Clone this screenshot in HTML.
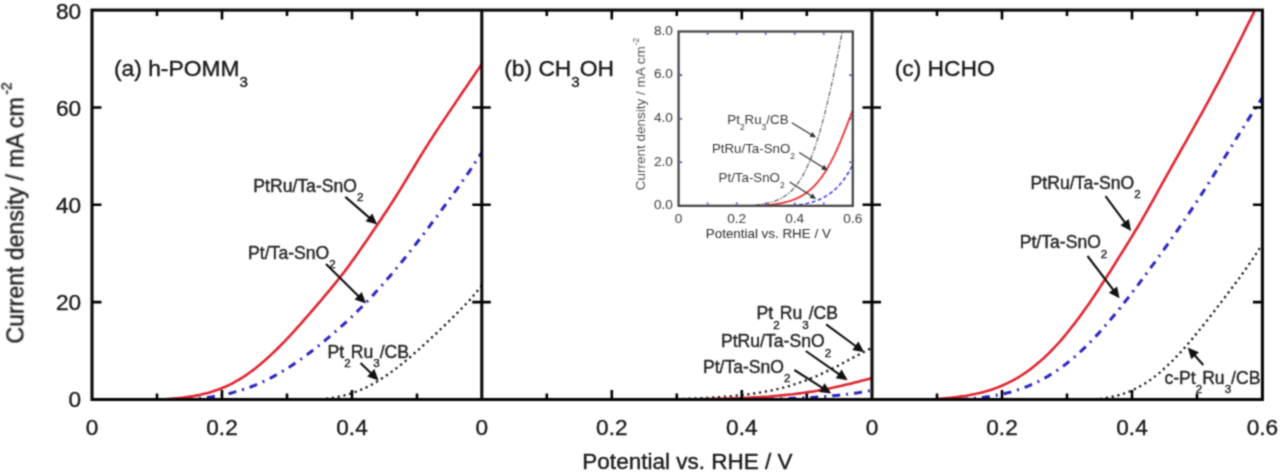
<!DOCTYPE html><html><head><meta charset="utf-8"><style>
html,body{margin:0;padding:0;background:#fff;width:1280px;height:472px;overflow:hidden}
svg{display:block}
#wrap{width:1280px;height:472px;overflow:hidden}
text{font-family:"Liberation Sans", sans-serif}
</style></head><body><div id="wrap">
<svg width="1280" height="472" viewBox="0 0 1280 472">
<defs>
<filter id="bl" x="0" y="0" width="1280" height="472" filterUnits="userSpaceOnUse" color-interpolation-filters="sRGB"><feConvolveMatrix order="3" kernelMatrix="0.04387 0.12171 0.04387 0.12171 0.33767 0.12171 0.04387 0.12171 0.04387" edgeMode="duplicate" preserveAlpha="true"/></filter>
<clipPath id="cp0"><rect x="92.0" y="10.1" width="389.8" height="389.4"/></clipPath>
<clipPath id="cp1"><rect x="481.8" y="10.1" width="390.2" height="389.4"/></clipPath>
<clipPath id="cp2"><rect x="872.0" y="10.1" width="390.4" height="389.4"/></clipPath>
<clipPath id="cpi"><rect x="678.6" y="31.5" width="174.2" height="174.3"/></clipPath>
</defs>
<g filter="url(#bl)">
<rect width="1280" height="472" fill="#fff"/>
<path d="M326.0,398.8 C326.5,398.7 328.0,398.5 329.1,398.4 C330.1,398.2 331.1,398.1 332.1,397.9 C333.1,397.8 334.2,397.6 335.2,397.4 C336.2,397.2 337.2,397.0 338.2,396.8 C339.2,396.6 340.3,396.4 341.3,396.1 C342.3,395.9 343.3,395.6 344.3,395.4 C345.4,395.1 346.4,394.8 347.4,394.5 C348.4,394.2 349.4,393.9 350.5,393.6 C351.5,393.3 352.5,393.0 353.5,392.6 C354.5,392.2 355.5,391.9 356.6,391.5 C357.6,391.1 358.6,390.7 359.6,390.3 C360.6,389.9 361.7,389.4 362.7,389.0 C363.7,388.5 364.7,388.1 365.7,387.6 C366.8,387.1 367.8,386.6 368.8,386.1 C369.8,385.6 370.8,385.0 371.9,384.5 C372.9,383.9 373.9,383.4 374.9,382.8 C375.9,382.2 376.9,381.6 378.0,381.0 C379.0,380.4 380.0,379.7 381.0,379.1 C382.0,378.4 383.1,377.8 384.1,377.1 C385.1,376.4 386.1,375.7 387.1,375.0 C388.2,374.3 389.2,373.6 390.2,372.9 C391.2,372.1 392.2,371.4 393.3,370.6 C394.3,369.9 395.3,369.1 396.3,368.3 C397.3,367.5 398.3,366.7 399.4,365.9 C400.4,365.1 401.4,364.3 402.4,363.5 C403.4,362.6 404.5,361.8 405.5,361.0 C406.5,360.1 407.5,359.3 408.5,358.4 C409.6,357.5 410.6,356.7 411.6,355.8 C412.6,354.9 413.6,354.0 414.6,353.1 C415.7,352.2 416.7,351.3 417.7,350.4 C418.7,349.5 419.7,348.6 420.8,347.7 C421.8,346.8 422.8,345.8 423.8,344.9 C424.8,344.0 425.9,343.1 426.9,342.1 C427.9,341.2 428.9,340.3 429.9,339.3 C431.0,338.4 432.0,337.4 433.0,336.5 C434.0,335.5 435.0,334.6 436.0,333.6 C437.1,332.7 438.1,331.7 439.1,330.7 C440.1,329.8 441.1,328.8 442.2,327.8 C443.2,326.8 444.2,325.9 445.2,324.9 C446.2,323.9 447.3,322.9 448.3,321.9 C449.3,320.9 450.3,319.9 451.3,318.9 C452.4,317.9 453.4,316.9 454.4,315.9 C455.4,314.9 456.4,313.8 457.4,312.8 C458.5,311.8 459.5,310.7 460.5,309.7 C461.5,308.6 462.5,307.6 463.6,306.5 C464.6,305.4 465.6,304.3 466.6,303.2 C467.6,302.1 468.7,301.0 469.7,299.9 C470.7,298.7 471.7,297.6 472.7,296.4 C473.7,295.3 474.8,294.1 475.8,292.9 C476.8,291.7 477.8,290.4 478.8,289.2 C479.9,287.9 481.4,286.0 481.9,285.3" fill="none" stroke="#1a1a1a" stroke-width="2.3" stroke-dasharray="2.2 3.7" clip-path="url(#cp0)"/>
<path d="M185.0,399.5 C185.5,399.5 187.0,399.4 188.0,399.4 C189.0,399.3 190.0,399.2 191.1,399.1 C192.1,399.1 193.1,399.0 194.1,398.9 C195.1,398.8 196.1,398.7 197.1,398.6 C198.1,398.5 199.1,398.4 200.1,398.3 C201.2,398.2 202.2,398.1 203.2,398.0 C204.2,397.9 205.2,397.7 206.2,397.6 C207.2,397.5 208.2,397.3 209.2,397.2 C210.2,397.1 211.2,396.9 212.3,396.8 C213.3,396.6 214.3,396.4 215.3,396.3 C216.3,396.1 217.3,395.9 218.3,395.7 C219.3,395.6 220.3,395.4 221.3,395.2 C222.4,395.0 223.4,394.8 224.4,394.6 C225.4,394.3 226.4,394.1 227.4,393.9 C228.4,393.7 229.4,393.4 230.4,393.2 C231.4,392.9 232.4,392.7 233.5,392.4 C234.5,392.1 235.5,391.8 236.5,391.6 C237.5,391.3 238.5,391.0 239.5,390.7 C240.5,390.4 241.5,390.1 242.5,389.7 C243.6,389.4 244.6,389.1 245.6,388.7 C246.6,388.4 247.6,388.0 248.6,387.7 C249.6,387.3 250.6,386.9 251.6,386.5 C252.6,386.1 253.6,385.7 254.7,385.3 C255.7,384.9 256.7,384.5 257.7,384.1 C258.7,383.6 259.7,383.2 260.7,382.7 C261.7,382.3 262.7,381.8 263.7,381.4 C264.8,380.9 265.8,380.4 266.8,379.9 C267.8,379.4 268.8,378.9 269.8,378.4 C270.8,377.9 271.8,377.3 272.8,376.8 C273.8,376.3 274.8,375.7 275.9,375.1 C276.9,374.6 277.9,374.0 278.9,373.4 C279.9,372.8 280.9,372.3 281.9,371.7 C282.9,371.1 283.9,370.4 284.9,369.8 C286.0,369.2 287.0,368.6 288.0,367.9 C289.0,367.3 290.0,366.6 291.0,366.0 C292.0,365.3 293.0,364.6 294.0,363.9 C295.0,363.3 296.0,362.6 297.1,361.9 C298.1,361.2 299.1,360.5 300.1,359.8 C301.1,359.0 302.1,358.3 303.1,357.6 C304.1,356.8 305.1,356.1 306.1,355.4 C307.2,354.6 308.2,353.8 309.2,353.1 C310.2,352.3 311.2,351.5 312.2,350.8 C313.2,350.0 314.2,349.2 315.2,348.4 C316.2,347.6 317.2,346.8 318.3,346.0 C319.3,345.2 320.3,344.4 321.3,343.5 C322.3,342.7 323.3,341.9 324.3,341.1 C325.3,340.2 326.3,339.4 327.3,338.5 C328.4,337.7 329.4,336.8 330.4,336.0 C331.4,335.1 332.4,334.2 333.4,333.4 C334.4,332.5 335.4,331.6 336.4,330.7 C337.4,329.8 338.4,329.0 339.5,328.1 C340.5,327.2 341.5,326.3 342.5,325.3 C343.5,324.4 344.5,323.5 345.5,322.6 C346.5,321.6 347.5,320.7 348.5,319.8 C349.6,318.8 350.6,317.9 351.6,316.9 C352.6,316.0 353.6,315.0 354.6,314.0 C355.6,313.0 356.6,312.0 357.6,311.0 C358.6,310.1 359.6,309.0 360.7,308.0 C361.7,307.0 362.7,306.0 363.7,305.0 C364.7,303.9 365.7,302.9 366.7,301.8 C367.7,300.8 368.7,299.7 369.7,298.6 C370.8,297.6 371.8,296.5 372.8,295.4 C373.8,294.3 374.8,293.2 375.8,292.1 C376.8,291.0 377.8,289.9 378.8,288.8 C379.8,287.6 380.8,286.5 381.9,285.4 C382.9,284.2 383.9,283.1 384.9,281.9 C385.9,280.7 386.9,279.6 387.9,278.4 C388.9,277.2 389.9,276.0 390.9,274.9 C392.0,273.7 393.0,272.5 394.0,271.3 C395.0,270.1 396.0,268.8 397.0,267.6 C398.0,266.4 399.0,265.2 400.0,263.9 C401.0,262.7 402.0,261.5 403.1,260.2 C404.1,259.0 405.1,257.7 406.1,256.4 C407.1,255.2 408.1,253.9 409.1,252.6 C410.1,251.4 411.1,250.1 412.1,248.8 C413.2,247.5 414.2,246.2 415.2,244.9 C416.2,243.6 417.2,242.3 418.2,241.0 C419.2,239.7 420.2,238.4 421.2,237.1 C422.2,235.8 423.2,234.4 424.3,233.1 C425.3,231.8 426.3,230.5 427.3,229.1 C428.3,227.8 429.3,226.5 430.3,225.1 C431.3,223.8 432.3,222.4 433.3,221.1 C434.4,219.7 435.4,218.4 436.4,217.0 C437.4,215.7 438.4,214.3 439.4,213.0 C440.4,211.6 441.4,210.2 442.4,208.9 C443.4,207.5 444.4,206.1 445.5,204.8 C446.5,203.4 447.5,202.0 448.5,200.6 C449.5,199.3 450.5,197.9 451.5,196.5 C452.5,195.1 453.5,193.7 454.5,192.3 C455.6,190.9 456.6,189.5 457.6,188.1 C458.6,186.7 459.6,185.3 460.6,183.8 C461.6,182.4 462.6,181.0 463.6,179.5 C464.6,178.1 465.6,176.6 466.7,175.2 C467.7,173.7 468.7,172.2 469.7,170.8 C470.7,169.3 471.7,167.8 472.7,166.3 C473.7,164.8 474.7,163.2 475.7,161.7 C476.8,160.2 477.8,158.6 478.8,157.0 C479.8,155.5 481.3,153.1 481.8,152.3" fill="none" stroke="#2a24c0" stroke-width="3" stroke-dasharray="8 6 2 6" clip-path="url(#cp0)"/>
<path d="M158.0,399.5 C158.5,399.5 160.0,399.4 161.0,399.4 C162.0,399.4 163.0,399.3 164.1,399.2 C165.1,399.2 166.1,399.1 167.1,399.0 C168.1,399.0 169.1,398.9 170.1,398.8 C171.1,398.7 172.1,398.7 173.1,398.6 C174.1,398.5 175.2,398.4 176.2,398.3 C177.2,398.2 178.2,398.1 179.2,398.0 C180.2,397.9 181.2,397.8 182.2,397.7 C183.2,397.6 184.2,397.4 185.2,397.3 C186.3,397.2 187.3,397.0 188.3,396.9 C189.3,396.7 190.3,396.6 191.3,396.4 C192.3,396.3 193.3,396.1 194.3,395.9 C195.3,395.7 196.3,395.6 197.4,395.4 C198.4,395.2 199.4,395.0 200.4,394.7 C201.4,394.5 202.4,394.3 203.4,394.0 C204.4,393.8 205.4,393.6 206.4,393.3 C207.4,393.0 208.5,392.8 209.5,392.5 C210.5,392.2 211.5,391.9 212.5,391.6 C213.5,391.2 214.5,390.9 215.5,390.6 C216.5,390.2 217.5,389.9 218.5,389.5 C219.6,389.1 220.6,388.7 221.6,388.3 C222.6,387.9 223.6,387.5 224.6,387.0 C225.6,386.6 226.6,386.1 227.6,385.7 C228.6,385.2 229.6,384.7 230.7,384.2 C231.7,383.7 232.7,383.2 233.7,382.6 C234.7,382.1 235.7,381.5 236.7,380.9 C237.7,380.4 238.7,379.8 239.7,379.1 C240.7,378.5 241.7,377.9 242.8,377.3 C243.8,376.6 244.8,375.9 245.8,375.3 C246.8,374.6 247.8,373.9 248.8,373.2 C249.8,372.4 250.8,371.7 251.8,371.0 C252.8,370.2 253.9,369.5 254.9,368.7 C255.9,367.9 256.9,367.1 257.9,366.3 C258.9,365.5 259.9,364.6 260.9,363.8 C261.9,362.9 262.9,362.1 263.9,361.2 C265.0,360.3 266.0,359.4 267.0,358.5 C268.0,357.6 269.0,356.7 270.0,355.8 C271.0,354.8 272.0,353.9 273.0,352.9 C274.0,352.0 275.0,351.0 276.1,350.0 C277.1,349.0 278.1,348.0 279.1,347.0 C280.1,346.0 281.1,345.0 282.1,343.9 C283.1,342.9 284.1,341.8 285.1,340.8 C286.1,339.7 287.2,338.7 288.2,337.6 C289.2,336.5 290.2,335.4 291.2,334.3 C292.2,333.2 293.2,332.1 294.2,331.0 C295.2,329.9 296.2,328.8 297.2,327.7 C298.3,326.5 299.3,325.4 300.3,324.3 C301.3,323.1 302.3,322.0 303.3,320.8 C304.3,319.7 305.3,318.5 306.3,317.4 C307.3,316.2 308.3,315.1 309.4,313.9 C310.4,312.7 311.4,311.6 312.4,310.4 C313.4,309.2 314.4,308.0 315.4,306.9 C316.4,305.7 317.4,304.5 318.4,303.3 C319.4,302.1 320.5,301.0 321.5,299.8 C322.5,298.6 323.5,297.4 324.5,296.2 C325.5,295.0 326.5,293.8 327.5,292.6 C328.5,291.4 329.5,290.2 330.5,289.0 C331.6,287.8 332.6,286.6 333.6,285.3 C334.6,284.1 335.6,282.9 336.6,281.6 C337.6,280.3 338.6,279.1 339.6,277.8 C340.6,276.5 341.6,275.2 342.7,273.9 C343.7,272.6 344.7,271.3 345.7,269.9 C346.7,268.6 347.7,267.3 348.7,265.9 C349.7,264.5 350.7,263.1 351.7,261.7 C352.7,260.4 353.8,259.0 354.8,257.5 C355.8,256.1 356.8,254.7 357.8,253.3 C358.8,251.8 359.8,250.4 360.8,248.9 C361.8,247.5 362.8,246.0 363.8,244.6 C364.9,243.1 365.9,241.6 366.9,240.2 C367.9,238.7 368.9,237.2 369.9,235.7 C370.9,234.2 371.9,232.8 372.9,231.3 C373.9,229.8 374.9,228.3 376.0,226.8 C377.0,225.3 378.0,223.8 379.0,222.3 C380.0,220.8 381.0,219.3 382.0,217.7 C383.0,216.2 384.0,214.7 385.0,213.2 C386.0,211.7 387.1,210.1 388.1,208.6 C389.1,207.1 390.1,205.5 391.1,203.9 C392.1,202.4 393.1,200.8 394.1,199.2 C395.1,197.7 396.1,196.1 397.1,194.5 C398.2,192.8 399.2,191.2 400.2,189.6 C401.2,188.0 402.2,186.3 403.2,184.7 C404.2,183.0 405.2,181.4 406.2,179.7 C407.2,178.1 408.2,176.4 409.2,174.8 C410.3,173.1 411.3,171.4 412.3,169.8 C413.3,168.1 414.3,166.4 415.3,164.8 C416.3,163.1 417.3,161.4 418.3,159.8 C419.3,158.1 420.3,156.5 421.4,154.8 C422.4,153.2 423.4,151.5 424.4,149.9 C425.4,148.3 426.4,146.7 427.4,145.1 C428.4,143.5 429.4,141.9 430.4,140.3 C431.4,138.8 432.5,137.2 433.5,135.6 C434.5,134.1 435.5,132.5 436.5,131.0 C437.5,129.5 438.5,128.0 439.5,126.4 C440.5,124.9 441.5,123.4 442.5,121.9 C443.6,120.4 444.6,118.9 445.6,117.4 C446.6,115.9 447.6,114.4 448.6,112.9 C449.6,111.4 450.6,109.9 451.6,108.4 C452.6,106.9 453.6,105.4 454.7,103.9 C455.7,102.4 456.7,100.9 457.7,99.4 C458.7,98.0 459.7,96.5 460.7,95.0 C461.7,93.5 462.7,92.0 463.7,90.5 C464.7,89.1 465.8,87.6 466.8,86.1 C467.8,84.6 468.8,83.1 469.8,81.6 C470.8,80.2 471.8,78.7 472.8,77.2 C473.8,75.7 474.8,74.2 475.8,72.7 C476.9,71.2 477.9,69.7 478.9,68.3 C479.9,66.8 481.4,64.5 481.9,63.8" fill="none" stroke="#e02430" stroke-width="2.6" clip-path="url(#cp0)"/>
<path d="M611.8,399.5 C612.3,399.5 613.8,399.5 614.8,399.5 C615.8,399.5 616.8,399.5 617.8,399.5 C618.9,399.5 619.9,399.5 620.9,399.5 C621.9,399.5 622.9,399.5 623.9,399.5 C624.9,399.5 625.9,399.5 626.9,399.5 C627.9,399.5 628.9,399.5 629.9,399.5 C630.9,399.5 632.0,399.5 633.0,399.5 C634.0,399.5 635.0,399.5 636.0,399.5 C637.0,399.5 638.0,399.5 639.0,399.5 C640.0,399.5 641.0,399.5 642.0,399.5 C643.0,399.5 644.0,399.5 645.1,399.5 C646.1,399.5 647.1,399.5 648.1,399.5 C649.1,399.5 650.1,399.5 651.1,399.5 C652.1,399.5 653.1,399.4 654.1,399.4 C655.1,399.4 656.1,399.4 657.1,399.4 C658.2,399.4 659.2,399.4 660.2,399.3 C661.2,399.3 662.2,399.3 663.2,399.3 C664.2,399.3 665.2,399.3 666.2,399.2 C667.2,399.2 668.2,399.2 669.2,399.2 C670.2,399.2 671.3,399.1 672.3,399.1 C673.3,399.1 674.3,399.1 675.3,399.0 C676.3,399.0 677.3,399.0 678.3,399.0 C679.3,398.9 680.3,398.9 681.3,398.9 C682.3,398.9 683.4,398.8 684.4,398.8 C685.4,398.8 686.4,398.7 687.4,398.7 C688.4,398.7 689.4,398.6 690.4,398.6 C691.4,398.6 692.4,398.5 693.4,398.5 C694.4,398.4 695.4,398.4 696.5,398.4 C697.5,398.3 698.5,398.3 699.5,398.2 C700.5,398.2 701.5,398.1 702.5,398.1 C703.5,398.1 704.5,398.0 705.5,398.0 C706.5,397.9 707.5,397.8 708.5,397.8 C709.6,397.7 710.6,397.7 711.6,397.6 C712.6,397.6 713.6,397.5 714.6,397.4 C715.6,397.4 716.6,397.3 717.6,397.2 C718.6,397.2 719.6,397.1 720.6,397.0 C721.6,397.0 722.7,396.9 723.7,396.8 C724.7,396.7 725.7,396.7 726.7,396.6 C727.7,396.5 728.7,396.4 729.7,396.3 C730.7,396.2 731.7,396.1 732.7,396.0 C733.7,395.9 734.7,395.8 735.8,395.7 C736.8,395.6 737.8,395.5 738.8,395.4 C739.8,395.3 740.8,395.2 741.8,395.1 C742.8,395.0 743.8,394.9 744.8,394.7 C745.8,394.6 746.8,394.5 747.8,394.4 C748.9,394.2 749.9,394.1 750.9,393.9 C751.9,393.8 752.9,393.7 753.9,393.5 C754.9,393.4 755.9,393.2 756.9,393.0 C757.9,392.9 758.9,392.7 759.9,392.6 C760.9,392.4 762.0,392.2 763.0,392.0 C764.0,391.8 765.0,391.7 766.0,391.5 C767.0,391.3 768.0,391.1 769.0,390.9 C770.0,390.7 771.0,390.5 772.0,390.3 C773.0,390.0 774.0,389.8 775.1,389.6 C776.1,389.4 777.1,389.1 778.1,388.9 C779.1,388.6 780.1,388.4 781.1,388.1 C782.1,387.9 783.1,387.6 784.1,387.4 C785.1,387.1 786.1,386.8 787.1,386.5 C788.2,386.2 789.2,386.0 790.2,385.7 C791.2,385.4 792.2,385.0 793.2,384.7 C794.2,384.4 795.2,384.1 796.2,383.8 C797.2,383.4 798.2,383.1 799.2,382.8 C800.2,382.4 801.3,382.1 802.3,381.7 C803.3,381.3 804.3,381.0 805.3,380.6 C806.3,380.2 807.3,379.8 808.3,379.4 C809.3,379.0 810.3,378.6 811.3,378.2 C812.3,377.8 813.4,377.4 814.4,377.0 C815.4,376.6 816.4,376.1 817.4,375.7 C818.4,375.2 819.4,374.8 820.4,374.3 C821.4,373.9 822.4,373.4 823.4,372.9 C824.4,372.5 825.4,372.0 826.5,371.5 C827.5,371.0 828.5,370.5 829.5,370.1 C830.5,369.6 831.5,369.1 832.5,368.5 C833.5,368.0 834.5,367.5 835.5,367.0 C836.5,366.5 837.5,366.0 838.5,365.4 C839.6,364.9 840.6,364.4 841.6,363.8 C842.6,363.3 843.6,362.8 844.6,362.2 C845.6,361.7 846.6,361.2 847.6,360.6 C848.6,360.1 849.6,359.5 850.6,359.0 C851.6,358.4 852.7,357.9 853.7,357.3 C854.7,356.8 855.7,356.3 856.7,355.7 C857.7,355.2 858.7,354.6 859.7,354.1 C860.7,353.6 861.7,353.0 862.7,352.5 C863.7,352.0 864.7,351.5 865.8,351.0 C866.8,350.4 867.8,349.9 868.8,349.4 C869.8,348.9 871.3,348.2 871.8,348.0" fill="none" stroke="#1a1a1a" stroke-width="2.3" stroke-dasharray="2.2 3.7" clip-path="url(#cp1)"/>
<path d="M722.3,399.5 C722.8,399.5 724.3,399.5 725.4,399.5 C726.4,399.5 727.4,399.5 728.4,399.5 C729.4,399.5 730.4,399.5 731.5,399.5 C732.5,399.5 733.5,399.5 734.5,399.5 C735.5,399.5 736.5,399.5 737.6,399.5 C738.6,399.5 739.6,399.5 740.6,399.4 C741.6,399.4 742.6,399.4 743.7,399.4 C744.7,399.4 745.7,399.4 746.7,399.4 C747.7,399.4 748.7,399.4 749.8,399.3 C750.8,399.3 751.8,399.3 752.8,399.3 C753.8,399.3 754.8,399.3 755.9,399.3 C756.9,399.2 757.9,399.2 758.9,399.2 C759.9,399.2 760.9,399.2 762.0,399.2 C763.0,399.1 764.0,399.1 765.0,399.1 C766.0,399.1 767.0,399.1 768.1,399.0 C769.1,399.0 770.1,399.0 771.1,399.0 C772.1,398.9 773.2,398.9 774.2,398.9 C775.2,398.9 776.2,398.8 777.2,398.8 C778.2,398.8 779.3,398.8 780.3,398.7 C781.3,398.7 782.3,398.7 783.3,398.6 C784.3,398.6 785.4,398.6 786.4,398.5 C787.4,398.5 788.4,398.5 789.4,398.4 C790.4,398.4 791.5,398.4 792.5,398.3 C793.5,398.3 794.5,398.2 795.5,398.2 C796.5,398.1 797.6,398.1 798.6,398.1 C799.6,398.0 800.6,398.0 801.6,397.9 C802.6,397.9 803.7,397.8 804.7,397.8 C805.7,397.7 806.7,397.7 807.7,397.6 C808.7,397.5 809.8,397.5 810.8,397.4 C811.8,397.4 812.8,397.3 813.8,397.2 C814.8,397.2 815.9,397.1 816.9,397.0 C817.9,397.0 818.9,396.9 819.9,396.8 C820.9,396.8 822.0,396.7 823.0,396.6 C824.0,396.5 825.0,396.4 826.0,396.4 C827.1,396.3 828.1,396.2 829.1,396.1 C830.1,396.0 831.1,395.9 832.1,395.8 C833.2,395.7 834.2,395.6 835.2,395.5 C836.2,395.4 837.2,395.3 838.2,395.2 C839.3,395.1 840.3,395.0 841.3,394.9 C842.3,394.8 843.3,394.7 844.3,394.6 C845.4,394.4 846.4,394.3 847.4,394.2 C848.4,394.1 849.4,393.9 850.4,393.8 C851.5,393.7 852.5,393.5 853.5,393.4 C854.5,393.2 855.5,393.1 856.5,392.9 C857.6,392.8 858.6,392.6 859.6,392.5 C860.6,392.3 861.6,392.1 862.6,392.0 C863.7,391.8 864.7,391.6 865.7,391.4 C866.7,391.3 867.7,391.1 868.7,390.9 C869.8,390.7 871.3,390.4 871.8,390.3" fill="none" stroke="#2a24c0" stroke-width="3" stroke-dasharray="8 6 2 6" clip-path="url(#cp1)"/>
<path d="M657.3,399.5 C657.8,399.5 659.3,399.5 660.3,399.5 C661.3,399.5 662.3,399.5 663.3,399.5 C664.3,399.5 665.4,399.5 666.4,399.5 C667.4,399.5 668.4,399.5 669.4,399.5 C670.4,399.5 671.4,399.5 672.4,399.4 C673.4,399.4 674.4,399.4 675.4,399.4 C676.4,399.4 677.4,399.4 678.4,399.4 C679.5,399.4 680.5,399.4 681.5,399.4 C682.5,399.4 683.5,399.4 684.5,399.4 C685.5,399.4 686.5,399.4 687.5,399.3 C688.5,399.3 689.5,399.3 690.5,399.3 C691.5,399.3 692.5,399.3 693.6,399.3 C694.6,399.3 695.6,399.3 696.6,399.2 C697.6,399.2 698.6,399.2 699.6,399.2 C700.6,399.2 701.6,399.2 702.6,399.1 C703.6,399.1 704.6,399.1 705.6,399.1 C706.6,399.1 707.7,399.1 708.7,399.0 C709.7,399.0 710.7,399.0 711.7,399.0 C712.7,399.0 713.7,398.9 714.7,398.9 C715.7,398.9 716.7,398.9 717.7,398.8 C718.7,398.8 719.7,398.8 720.7,398.8 C721.8,398.7 722.8,398.7 723.8,398.7 C724.8,398.6 725.8,398.6 726.8,398.6 C727.8,398.6 728.8,398.5 729.8,398.5 C730.8,398.5 731.8,398.4 732.8,398.4 C733.8,398.4 734.8,398.3 735.8,398.3 C736.9,398.2 737.9,398.2 738.9,398.2 C739.9,398.1 740.9,398.1 741.9,398.0 C742.9,398.0 743.9,397.9 744.9,397.9 C745.9,397.9 746.9,397.8 747.9,397.8 C748.9,397.7 749.9,397.7 751.0,397.6 C752.0,397.6 753.0,397.5 754.0,397.4 C755.0,397.4 756.0,397.3 757.0,397.3 C758.0,397.2 759.0,397.2 760.0,397.1 C761.0,397.0 762.0,397.0 763.0,396.9 C764.0,396.8 765.1,396.8 766.1,396.7 C767.1,396.6 768.1,396.5 769.1,396.5 C770.1,396.4 771.1,396.3 772.1,396.2 C773.1,396.1 774.1,396.1 775.1,396.0 C776.1,395.9 777.1,395.8 778.1,395.7 C779.2,395.6 780.2,395.5 781.2,395.4 C782.2,395.3 783.2,395.2 784.2,395.1 C785.2,395.0 786.2,394.9 787.2,394.8 C788.2,394.7 789.2,394.6 790.2,394.5 C791.2,394.4 792.2,394.3 793.3,394.2 C794.3,394.0 795.3,393.9 796.3,393.8 C797.3,393.7 798.3,393.5 799.3,393.4 C800.3,393.3 801.3,393.1 802.3,393.0 C803.3,392.9 804.3,392.7 805.3,392.6 C806.3,392.4 807.3,392.3 808.4,392.1 C809.4,392.0 810.4,391.8 811.4,391.7 C812.4,391.5 813.4,391.3 814.4,391.2 C815.4,391.0 816.4,390.8 817.4,390.7 C818.4,390.5 819.4,390.3 820.4,390.1 C821.4,389.9 822.5,389.7 823.5,389.6 C824.5,389.4 825.5,389.2 826.5,389.0 C827.5,388.8 828.5,388.6 829.5,388.4 C830.5,388.2 831.5,388.0 832.5,387.8 C833.5,387.5 834.5,387.3 835.5,387.1 C836.6,386.9 837.6,386.7 838.6,386.4 C839.6,386.2 840.6,386.0 841.6,385.7 C842.6,385.5 843.6,385.3 844.6,385.0 C845.6,384.8 846.6,384.6 847.6,384.3 C848.6,384.1 849.6,383.8 850.7,383.6 C851.7,383.3 852.7,383.1 853.7,382.8 C854.7,382.6 855.7,382.3 856.7,382.0 C857.7,381.8 858.7,381.5 859.7,381.3 C860.7,381.0 861.7,380.7 862.7,380.5 C863.7,380.2 864.8,379.9 865.8,379.7 C866.8,379.4 867.8,379.1 868.8,378.9 C869.8,378.6 871.3,378.2 871.8,378.1" fill="none" stroke="#e02430" stroke-width="2.6" clip-path="url(#cp1)"/>
<path d="M1100.0,398.9 C1100.5,398.8 1102.0,398.6 1103.0,398.5 C1104.0,398.3 1105.0,398.2 1106.0,398.0 C1107.0,397.8 1108.0,397.7 1109.0,397.5 C1110.0,397.3 1111.0,397.1 1112.0,396.9 C1113.0,396.6 1114.0,396.4 1115.0,396.2 C1116.0,395.9 1117.0,395.7 1118.0,395.4 C1119.0,395.1 1120.0,394.8 1121.0,394.5 C1122.0,394.2 1123.0,393.9 1124.0,393.5 C1125.0,393.2 1126.0,392.8 1127.0,392.4 C1128.1,392.1 1129.1,391.7 1130.1,391.2 C1131.1,390.8 1132.1,390.4 1133.1,389.9 C1134.1,389.5 1135.1,389.0 1136.1,388.5 C1137.1,388.0 1138.1,387.5 1139.1,386.9 C1140.1,386.4 1141.1,385.8 1142.1,385.2 C1143.1,384.6 1144.1,384.0 1145.1,383.4 C1146.1,382.8 1147.1,382.1 1148.1,381.4 C1149.1,380.8 1150.1,380.1 1151.1,379.3 C1152.1,378.6 1153.1,377.9 1154.1,377.1 C1155.1,376.3 1156.1,375.6 1157.1,374.8 C1158.1,373.9 1159.1,373.1 1160.1,372.3 C1161.1,371.4 1162.1,370.5 1163.1,369.6 C1164.1,368.8 1165.1,367.8 1166.1,366.9 C1167.1,366.0 1168.1,365.0 1169.1,364.1 C1170.1,363.1 1171.1,362.1 1172.1,361.1 C1173.1,360.1 1174.1,359.0 1175.1,358.0 C1176.1,357.0 1177.1,355.9 1178.1,354.8 C1179.1,353.8 1180.1,352.7 1181.2,351.6 C1182.2,350.4 1183.2,349.3 1184.2,348.2 C1185.2,347.1 1186.2,345.9 1187.2,344.8 C1188.2,343.6 1189.2,342.4 1190.2,341.2 C1191.2,340.1 1192.2,338.9 1193.2,337.7 C1194.2,336.5 1195.2,335.3 1196.2,334.0 C1197.2,332.8 1198.2,331.6 1199.2,330.3 C1200.2,329.1 1201.2,327.9 1202.2,326.6 C1203.2,325.4 1204.2,324.1 1205.2,322.8 C1206.2,321.6 1207.2,320.3 1208.2,319.0 C1209.2,317.8 1210.2,316.5 1211.2,315.2 C1212.2,313.9 1213.2,312.6 1214.2,311.3 C1215.2,310.0 1216.2,308.7 1217.2,307.4 C1218.2,306.1 1219.2,304.8 1220.2,303.5 C1221.2,302.2 1222.2,300.9 1223.2,299.6 C1224.2,298.3 1225.2,297.0 1226.2,295.6 C1227.2,294.3 1228.2,293.0 1229.2,291.6 C1230.2,290.3 1231.2,289.0 1232.2,287.6 C1233.2,286.3 1234.2,284.9 1235.2,283.6 C1236.3,282.2 1237.3,280.8 1238.3,279.5 C1239.3,278.1 1240.3,276.7 1241.3,275.3 C1242.3,273.9 1243.3,272.5 1244.3,271.1 C1245.3,269.7 1246.3,268.3 1247.3,266.9 C1248.3,265.4 1249.3,264.0 1250.3,262.5 C1251.3,261.0 1252.3,259.6 1253.3,258.1 C1254.3,256.6 1255.3,255.1 1256.3,253.5 C1257.3,252.0 1258.3,250.4 1259.3,248.9 C1260.3,247.3 1261.8,244.8 1262.3,244.0" fill="none" stroke="#1a1a1a" stroke-width="2.3" stroke-dasharray="2.2 3.7" clip-path="url(#cp2)"/>
<path d="M960.0,399.5 C960.5,399.5 962.0,399.4 963.0,399.3 C964.0,399.2 965.0,399.2 966.0,399.1 C967.1,399.0 968.1,398.9 969.1,398.8 C970.1,398.8 971.1,398.7 972.1,398.6 C973.1,398.5 974.1,398.4 975.1,398.3 C976.1,398.2 977.1,398.1 978.1,398.0 C979.1,397.8 980.2,397.7 981.2,397.6 C982.2,397.5 983.2,397.4 984.2,397.2 C985.2,397.1 986.2,396.9 987.2,396.8 C988.2,396.7 989.2,396.5 990.2,396.3 C991.2,396.2 992.2,396.0 993.3,395.8 C994.3,395.7 995.3,395.5 996.3,395.3 C997.3,395.1 998.3,394.9 999.3,394.7 C1000.3,394.5 1001.3,394.3 1002.3,394.0 C1003.3,393.8 1004.3,393.6 1005.3,393.4 C1006.4,393.1 1007.4,392.9 1008.4,392.6 C1009.4,392.3 1010.4,392.1 1011.4,391.8 C1012.4,391.5 1013.4,391.2 1014.4,390.9 C1015.4,390.6 1016.4,390.3 1017.4,390.0 C1018.4,389.7 1019.5,389.3 1020.5,389.0 C1021.5,388.6 1022.5,388.3 1023.5,387.9 C1024.5,387.5 1025.5,387.1 1026.5,386.8 C1027.5,386.4 1028.5,386.0 1029.5,385.5 C1030.5,385.1 1031.5,384.7 1032.6,384.2 C1033.6,383.8 1034.6,383.3 1035.6,382.8 C1036.6,382.4 1037.6,381.9 1038.6,381.4 C1039.6,380.9 1040.6,380.4 1041.6,379.8 C1042.6,379.3 1043.6,378.8 1044.6,378.2 C1045.7,377.6 1046.7,377.1 1047.7,376.5 C1048.7,375.9 1049.7,375.3 1050.7,374.6 C1051.7,374.0 1052.7,373.4 1053.7,372.7 C1054.7,372.1 1055.7,371.4 1056.7,370.7 C1057.7,370.0 1058.8,369.3 1059.8,368.6 C1060.8,367.9 1061.8,367.2 1062.8,366.4 C1063.8,365.7 1064.8,364.9 1065.8,364.1 C1066.8,363.3 1067.8,362.6 1068.8,361.7 C1069.8,360.9 1070.8,360.1 1071.9,359.3 C1072.9,358.4 1073.9,357.5 1074.9,356.7 C1075.9,355.8 1076.9,354.9 1077.9,354.0 C1078.9,353.1 1079.9,352.2 1080.9,351.2 C1081.9,350.3 1082.9,349.3 1083.9,348.4 C1085.0,347.4 1086.0,346.4 1087.0,345.4 C1088.0,344.4 1089.0,343.4 1090.0,342.4 C1091.0,341.3 1092.0,340.3 1093.0,339.2 C1094.0,338.2 1095.0,337.1 1096.0,336.0 C1097.0,334.9 1098.1,333.8 1099.1,332.7 C1100.1,331.6 1101.1,330.5 1102.1,329.4 C1103.1,328.2 1104.1,327.1 1105.1,325.9 C1106.1,324.8 1107.1,323.6 1108.1,322.4 C1109.1,321.2 1110.1,320.0 1111.2,318.8 C1112.2,317.6 1113.2,316.4 1114.2,315.2 C1115.2,314.0 1116.2,312.7 1117.2,311.5 C1118.2,310.3 1119.2,309.0 1120.2,307.8 C1121.2,306.5 1122.2,305.2 1123.2,304.0 C1124.2,302.7 1125.3,301.4 1126.3,300.1 C1127.3,298.9 1128.3,297.6 1129.3,296.3 C1130.3,295.0 1131.3,293.7 1132.3,292.3 C1133.3,291.0 1134.3,289.7 1135.3,288.4 C1136.3,287.1 1137.3,285.7 1138.4,284.4 C1139.4,283.1 1140.4,281.7 1141.4,280.4 C1142.4,279.0 1143.4,277.7 1144.4,276.3 C1145.4,275.0 1146.4,273.6 1147.4,272.2 C1148.4,270.9 1149.4,269.5 1150.4,268.1 C1151.5,266.7 1152.5,265.4 1153.5,264.0 C1154.5,262.6 1155.5,261.2 1156.5,259.8 C1157.5,258.4 1158.5,257.0 1159.5,255.6 C1160.5,254.2 1161.5,252.8 1162.5,251.4 C1163.5,250.0 1164.6,248.6 1165.6,247.2 C1166.6,245.8 1167.6,244.3 1168.6,242.9 C1169.6,241.5 1170.6,240.1 1171.6,238.6 C1172.6,237.2 1173.6,235.7 1174.6,234.3 C1175.6,232.9 1176.6,231.4 1177.7,230.0 C1178.7,228.5 1179.7,227.0 1180.7,225.6 C1181.7,224.1 1182.7,222.6 1183.7,221.1 C1184.7,219.7 1185.7,218.2 1186.7,216.7 C1187.7,215.2 1188.7,213.7 1189.7,212.2 C1190.8,210.7 1191.8,209.2 1192.8,207.6 C1193.8,206.1 1194.8,204.6 1195.8,203.0 C1196.8,201.5 1197.8,200.0 1198.8,198.4 C1199.8,196.8 1200.8,195.3 1201.8,193.7 C1202.8,192.2 1203.9,190.6 1204.9,189.0 C1205.9,187.4 1206.9,185.8 1207.9,184.2 C1208.9,182.7 1209.9,181.1 1210.9,179.5 C1211.9,177.9 1212.9,176.3 1213.9,174.7 C1214.9,173.0 1215.9,171.4 1217.0,169.8 C1218.0,168.2 1219.0,166.6 1220.0,165.0 C1221.0,163.3 1222.0,161.7 1223.0,160.1 C1224.0,158.5 1225.0,156.8 1226.0,155.2 C1227.0,153.6 1228.0,152.0 1229.0,150.3 C1230.1,148.7 1231.1,147.1 1232.1,145.4 C1233.1,143.8 1234.1,142.2 1235.1,140.6 C1236.1,138.9 1237.1,137.3 1238.1,135.7 C1239.1,134.1 1240.1,132.4 1241.1,130.8 C1242.1,129.2 1243.2,127.6 1244.2,126.0 C1245.2,124.4 1246.2,122.8 1247.2,121.2 C1248.2,119.6 1249.2,118.0 1250.2,116.4 C1251.2,114.8 1252.2,113.2 1253.2,111.6 C1254.2,110.1 1255.2,108.5 1256.3,106.9 C1257.3,105.4 1258.3,103.8 1259.3,102.3 C1260.3,100.7 1261.8,98.4 1262.3,97.7" fill="none" stroke="#2a24c0" stroke-width="3" stroke-dasharray="8 6 2 6" clip-path="url(#cp2)"/>
<path d="M936.0,399.0 C936.5,399.0 938.0,398.9 939.0,398.8 C940.0,398.7 941.0,398.6 942.0,398.6 C943.0,398.5 944.1,398.4 945.1,398.3 C946.1,398.2 947.1,398.1 948.1,398.0 C949.1,397.9 950.1,397.8 951.1,397.7 C952.1,397.6 953.1,397.5 954.1,397.4 C955.1,397.3 956.1,397.1 957.1,397.0 C958.1,396.9 959.1,396.7 960.2,396.6 C961.2,396.5 962.2,396.3 963.2,396.2 C964.2,396.0 965.2,395.8 966.2,395.7 C967.2,395.5 968.2,395.3 969.2,395.2 C970.2,395.0 971.2,394.8 972.2,394.6 C973.2,394.4 974.2,394.2 975.2,394.0 C976.3,393.7 977.3,393.5 978.3,393.3 C979.3,393.0 980.3,392.8 981.3,392.5 C982.3,392.3 983.3,392.0 984.3,391.8 C985.3,391.5 986.3,391.2 987.3,390.9 C988.3,390.6 989.3,390.3 990.3,390.0 C991.3,389.6 992.4,389.3 993.4,389.0 C994.4,388.6 995.4,388.3 996.4,387.9 C997.4,387.5 998.4,387.1 999.4,386.7 C1000.4,386.3 1001.4,385.9 1002.4,385.5 C1003.4,385.0 1004.4,384.6 1005.4,384.1 C1006.4,383.7 1007.4,383.2 1008.5,382.7 C1009.5,382.2 1010.5,381.7 1011.5,381.2 C1012.5,380.6 1013.5,380.1 1014.5,379.5 C1015.5,379.0 1016.5,378.4 1017.5,377.8 C1018.5,377.2 1019.5,376.6 1020.5,376.0 C1021.5,375.3 1022.5,374.7 1023.5,374.0 C1024.6,373.3 1025.6,372.7 1026.6,372.0 C1027.6,371.2 1028.6,370.5 1029.6,369.8 C1030.6,369.0 1031.6,368.3 1032.6,367.5 C1033.6,366.7 1034.6,365.9 1035.6,365.1 C1036.6,364.3 1037.6,363.4 1038.6,362.6 C1039.6,361.7 1040.7,360.8 1041.7,359.9 C1042.7,359.0 1043.7,358.1 1044.7,357.2 C1045.7,356.2 1046.7,355.3 1047.7,354.3 C1048.7,353.3 1049.7,352.3 1050.7,351.3 C1051.7,350.3 1052.7,349.2 1053.7,348.2 C1054.7,347.1 1055.7,346.0 1056.8,344.9 C1057.8,343.8 1058.8,342.7 1059.8,341.6 C1060.8,340.4 1061.8,339.3 1062.8,338.1 C1063.8,336.9 1064.8,335.7 1065.8,334.5 C1066.8,333.3 1067.8,332.1 1068.8,330.8 C1069.8,329.6 1070.8,328.3 1071.8,327.0 C1072.9,325.8 1073.9,324.5 1074.9,323.1 C1075.9,321.8 1076.9,320.5 1077.9,319.1 C1078.9,317.8 1079.9,316.4 1080.9,315.0 C1081.9,313.7 1082.9,312.3 1083.9,310.8 C1084.9,309.4 1085.9,308.0 1086.9,306.6 C1087.9,305.1 1089.0,303.7 1090.0,302.2 C1091.0,300.7 1092.0,299.2 1093.0,297.8 C1094.0,296.3 1095.0,294.8 1096.0,293.2 C1097.0,291.7 1098.0,290.2 1099.0,288.7 C1100.0,287.1 1101.0,285.6 1102.0,284.0 C1103.0,282.5 1104.1,280.9 1105.1,279.4 C1106.1,277.8 1107.1,276.2 1108.1,274.6 C1109.1,273.0 1110.1,271.5 1111.1,269.9 C1112.1,268.3 1113.1,266.7 1114.1,265.1 C1115.1,263.5 1116.1,261.9 1117.1,260.3 C1118.1,258.7 1119.1,257.1 1120.2,255.4 C1121.2,253.8 1122.2,252.2 1123.2,250.6 C1124.2,249.0 1125.2,247.4 1126.2,245.8 C1127.2,244.1 1128.2,242.5 1129.2,240.9 C1130.2,239.3 1131.2,237.6 1132.2,236.0 C1133.2,234.3 1134.2,232.7 1135.2,231.0 C1136.3,229.4 1137.3,227.7 1138.3,226.0 C1139.3,224.3 1140.3,222.6 1141.3,220.9 C1142.3,219.1 1143.3,217.4 1144.3,215.7 C1145.3,213.9 1146.3,212.1 1147.3,210.4 C1148.3,208.6 1149.3,206.8 1150.3,205.0 C1151.3,203.2 1152.4,201.4 1153.4,199.6 C1154.4,197.8 1155.4,196.0 1156.4,194.2 C1157.4,192.3 1158.4,190.5 1159.4,188.7 C1160.4,186.9 1161.4,185.1 1162.4,183.2 C1163.4,181.4 1164.4,179.6 1165.4,177.8 C1166.4,176.0 1167.4,174.2 1168.5,172.4 C1169.5,170.6 1170.5,168.8 1171.5,167.0 C1172.5,165.2 1173.5,163.4 1174.5,161.6 C1175.5,159.9 1176.5,158.1 1177.5,156.3 C1178.5,154.5 1179.5,152.7 1180.5,151.0 C1181.5,149.2 1182.5,147.4 1183.5,145.6 C1184.6,143.8 1185.6,142.1 1186.6,140.3 C1187.6,138.5 1188.6,136.7 1189.6,134.9 C1190.6,133.1 1191.6,131.3 1192.6,129.6 C1193.6,127.8 1194.6,126.0 1195.6,124.2 C1196.6,122.4 1197.6,120.6 1198.6,118.8 C1199.6,116.9 1200.7,115.1 1201.7,113.3 C1202.7,111.5 1203.7,109.7 1204.7,107.8 C1205.7,106.0 1206.7,104.2 1207.7,102.3 C1208.7,100.5 1209.7,98.6 1210.7,96.8 C1211.7,94.9 1212.7,93.1 1213.7,91.2 C1214.7,89.3 1215.7,87.4 1216.8,85.5 C1217.8,83.6 1218.8,81.7 1219.8,79.8 C1220.8,77.9 1221.8,76.0 1222.8,74.1 C1223.8,72.1 1224.8,70.2 1225.8,68.3 C1226.8,66.3 1227.8,64.4 1228.8,62.4 C1229.8,60.4 1230.8,58.5 1231.8,56.5 C1232.9,54.5 1233.9,52.5 1234.9,50.5 C1235.9,48.5 1236.9,46.5 1237.9,44.5 C1238.9,42.5 1239.9,40.5 1240.9,38.5 C1241.9,36.5 1242.9,34.5 1243.9,32.5 C1244.9,30.4 1245.9,28.4 1246.9,26.4 C1247.9,24.3 1249.0,22.3 1250.0,20.3 C1251.0,18.2 1252.0,16.2 1253.0,14.1 C1254.0,12.1 1255.5,9.0 1256.0,8.0" fill="none" stroke="#e02430" stroke-width="2.6" clip-path="url(#cp2)"/>
<rect x="92.0" y="10.1" width="1170.4" height="389.4" fill="none" stroke="#0a0a0a" stroke-width="3.1"/>
<line x1="481.8" y1="10.1" x2="481.8" y2="399.5" stroke="#0a0a0a" stroke-width="3.1"/>
<line x1="872.0" y1="10.1" x2="872.0" y2="399.5" stroke="#0a0a0a" stroke-width="3.1"/>
<path d="M157.0,399.5 L157.0,393.5 M157.0,10.1 L157.0,16.1 M222.0,399.5 L222.0,390.0 M222.0,10.1 L222.0,19.6 M287.0,399.5 L287.0,393.5 M287.0,10.1 L287.0,16.1 M352.0,399.5 L352.0,390.0 M352.0,10.1 L352.0,19.6 M417.0,399.5 L417.0,393.5 M417.0,10.1 L417.0,16.1 M546.8,399.5 L546.8,393.5 M546.8,10.1 L546.8,16.1 M611.8,399.5 L611.8,390.0 M611.8,10.1 L611.8,19.6 M676.8,399.5 L676.8,393.5 M676.8,10.1 L676.8,16.1 M741.8,399.5 L741.8,390.0 M741.8,10.1 L741.8,19.6 M806.8,399.5 L806.8,393.5 M806.8,10.1 L806.8,16.1 M937.0,399.5 L937.0,393.5 M937.0,10.1 L937.0,16.1 M1002.0,399.5 L1002.0,390.0 M1002.0,10.1 L1002.0,19.6 M1067.0,399.5 L1067.0,393.5 M1067.0,10.1 L1067.0,16.1 M1132.0,399.5 L1132.0,390.0 M1132.0,10.1 L1132.0,19.6 M1197.0,399.5 L1197.0,393.5 M1197.0,10.1 L1197.0,16.1 M92.0,302.1 L101.5,302.1 M1262.4,302.1 L1252.9,302.1 M472.3,302.1 L490.8,302.1 M862.5,302.1 L881.0,302.1 M92.0,204.8 L101.5,204.8 M1262.4,204.8 L1252.9,204.8 M472.3,204.8 L490.8,204.8 M862.5,204.8 L881.0,204.8 M92.0,107.5 L101.5,107.5 M1262.4,107.5 L1252.9,107.5 M472.3,107.5 L490.8,107.5 M862.5,107.5 L881.0,107.5" stroke="#000" stroke-width="2.6" fill="none"/>
<text transform="translate(81.20,407.30)" font-size="22.60" fill="#1c1c1c" stroke="#1c1c1c" stroke-width="0.40" text-anchor="end">0</text>
<text transform="translate(81.20,310.21)" font-size="22.60" fill="#1c1c1c" stroke="#1c1c1c" stroke-width="0.40" text-anchor="end">20</text>
<text transform="translate(81.20,213.13)" font-size="22.60" fill="#1c1c1c" stroke="#1c1c1c" stroke-width="0.40" text-anchor="end">40</text>
<text transform="translate(81.20,116.04)" font-size="22.60" fill="#1c1c1c" stroke="#1c1c1c" stroke-width="0.40" text-anchor="end">60</text>
<text transform="translate(81.20,18.95)" font-size="22.60" fill="#1c1c1c" stroke="#1c1c1c" stroke-width="0.40" text-anchor="end">80</text>
<text transform="translate(92.00,435.20)" font-size="22.60" fill="#1c1c1c" stroke="#1c1c1c" stroke-width="0.40" text-anchor="middle">0</text>
<text transform="translate(222.00,435.20)" font-size="22.60" fill="#1c1c1c" stroke="#1c1c1c" stroke-width="0.40" text-anchor="middle">0.2</text>
<text transform="translate(352.00,435.20)" font-size="22.60" fill="#1c1c1c" stroke="#1c1c1c" stroke-width="0.40" text-anchor="middle">0.4</text>
<text transform="translate(481.80,435.20)" font-size="22.60" fill="#1c1c1c" stroke="#1c1c1c" stroke-width="0.40" text-anchor="middle">0</text>
<text transform="translate(611.80,435.20)" font-size="22.60" fill="#1c1c1c" stroke="#1c1c1c" stroke-width="0.40" text-anchor="middle">0.2</text>
<text transform="translate(741.80,435.20)" font-size="22.60" fill="#1c1c1c" stroke="#1c1c1c" stroke-width="0.40" text-anchor="middle">0.4</text>
<text transform="translate(872.00,435.20)" font-size="22.60" fill="#1c1c1c" stroke="#1c1c1c" stroke-width="0.40" text-anchor="middle">0</text>
<text transform="translate(1002.00,435.20)" font-size="22.60" fill="#1c1c1c" stroke="#1c1c1c" stroke-width="0.40" text-anchor="middle">0.2</text>
<text transform="translate(1132.00,435.20)" font-size="22.60" fill="#1c1c1c" stroke="#1c1c1c" stroke-width="0.40" text-anchor="middle">0.4</text>
<text transform="translate(1262.40,435.20)" font-size="22.60" fill="#1c1c1c" stroke="#1c1c1c" stroke-width="0.40" text-anchor="middle">0.6</text>
<text transform="translate(687.40,468.60)" font-size="22.50" fill="#1c1c1c" stroke="#1c1c1c" stroke-width="0.40" text-anchor="middle">Potential vs. RHE / V</text>
<text transform="translate(23.40,343.60) rotate(-90)" font-size="23.10" fill="#1c1c1c" stroke="#1c1c1c" stroke-width="0.40">Current density / mA cm<tspan font-size="14" dy="-12.5" dx="2.5">-2</tspan></text>
<text transform="translate(114.00,75.80)" font-size="22.80" fill="#1c1c1c" stroke="#1c1c1c" stroke-width="0.40">(a) h-POMM<tspan font-size="15.2" dy="11.5">3</tspan></text>
<text transform="translate(504.20,75.80)" font-size="22.80" fill="#1c1c1c" stroke="#1c1c1c" stroke-width="0.40">(b) CH<tspan font-size="15.2" dy="11.5">3</tspan><tspan dy="-11.5">OH</tspan></text>
<text transform="translate(894.70,75.80)" font-size="22.80" fill="#1c1c1c" stroke="#1c1c1c" stroke-width="0.40">(c) HCHO</text>
<text transform="translate(253.30,191.50)" font-size="17.60" fill="#262626" stroke="#262626" stroke-width="0.40">PtRu/Ta-SnO<tspan font-size="11.60" dy="9.30">2</tspan></text>
<text transform="translate(248.10,258.60)" font-size="17.60" fill="#262626" stroke="#262626" stroke-width="0.40">Pt/Ta-SnO<tspan font-size="11.60" dy="9.30">2</tspan></text>
<text transform="translate(327.60,357.80)" font-size="17.60" fill="#262626" stroke="#262626" stroke-width="0.40">Pt<tspan font-size="11.60" dy="9.30">2</tspan><tspan dy="-9.30">Ru</tspan><tspan font-size="11.60" dy="9.30">3</tspan><tspan dy="-9.30">/CB</tspan></text>
<text transform="translate(756.60,319.40)" font-size="17.60" fill="#262626" stroke="#262626" stroke-width="0.40">Pt<tspan font-size="11.60" dy="9.30">2</tspan><tspan dy="-9.30">Ru</tspan><tspan font-size="11.60" dy="9.30">3</tspan><tspan dy="-9.30">/CB</tspan></text>
<text transform="translate(721.00,347.20)" font-size="17.60" fill="#262626" stroke="#262626" stroke-width="0.40">PtRu/Ta-SnO<tspan font-size="11.60" dy="9.30">2</tspan></text>
<text transform="translate(702.90,372.50)" font-size="17.60" fill="#262626" stroke="#262626" stroke-width="0.40">Pt/Ta-SnO<tspan font-size="11.60" dy="9.30">2</tspan></text>
<text transform="translate(1030.60,189.00)" font-size="17.60" fill="#262626" stroke="#262626" stroke-width="0.40">PtRu/Ta-SnO<tspan font-size="11.60" dy="9.30">2</tspan></text>
<text transform="translate(1019.70,248.40)" font-size="17.60" fill="#262626" stroke="#262626" stroke-width="0.40">Pt/Ta-SnO<tspan font-size="11.60" dy="9.30">2</tspan></text>
<text transform="translate(1164.40,384.00)" font-size="17.60" fill="#262626" stroke="#262626" stroke-width="0.40">c-Pt<tspan font-size="11.60" dy="9.30">2</tspan><tspan dy="-9.30">Ru</tspan><tspan font-size="11.60" dy="9.30">3</tspan><tspan dy="-9.30">/CB</tspan></text>
<line x1="345.3" y1="196.9" x2="370.4" y2="218.6" stroke="#111" stroke-width="2.1"/>
<path d="M377.2,224.5 L365.5,221.2 L372.3,213.4 Z" fill="#111"/>
<line x1="326.0" y1="263.9" x2="359.6" y2="297.2" stroke="#111" stroke-width="2.1"/>
<path d="M366.0,303.5 L354.5,299.5 L361.8,292.1 Z" fill="#111"/>
<line x1="360.5" y1="363.0" x2="372.1" y2="374.2" stroke="#111" stroke-width="2.1"/>
<path d="M378.6,380.5 L367.1,376.6 L374.3,369.1 Z" fill="#111"/>
<line x1="826.1" y1="324.3" x2="856.9" y2="347.0" stroke="#111" stroke-width="2.1"/>
<path d="M864.2,352.3 L852.3,350.0 L858.4,341.6 Z" fill="#111"/>
<line x1="805.8" y1="351.0" x2="840.3" y2="375.1" stroke="#111" stroke-width="2.1"/>
<path d="M847.7,380.2 L835.7,378.2 L841.6,369.6 Z" fill="#111"/>
<line x1="794.4" y1="370.0" x2="823.6" y2="388.7" stroke="#111" stroke-width="2.1"/>
<path d="M831.2,393.5 L819.1,392.0 L824.7,383.2 Z" fill="#111"/>
<line x1="1105.5" y1="196.1" x2="1125.8" y2="223.7" stroke="#111" stroke-width="2.1"/>
<path d="M1131.1,231.0 L1120.4,225.2 L1128.8,219.1 Z" fill="#111"/>
<line x1="1087.5" y1="256.0" x2="1114.2" y2="291.1" stroke="#111" stroke-width="2.1"/>
<path d="M1119.6,298.3 L1108.8,292.7 L1117.1,286.4 Z" fill="#111"/>
<line x1="1203.3" y1="365.0" x2="1193.7" y2="354.3" stroke="#111" stroke-width="2.1"/>
<path d="M1187.7,347.6 L1198.9,352.3 L1191.2,359.3 Z" fill="#111"/>
<rect x="678.6" y="31.5" width="174.2" height="174.3" fill="#fff"/>
<path d="M736.7,205.8 C737.0,205.8 738.0,205.8 738.7,205.8 C739.3,205.8 740.0,205.8 740.7,205.8 C741.3,205.8 742.0,205.8 742.7,205.8 C743.3,205.8 744.0,205.8 744.7,205.8 C745.3,205.8 746.0,205.8 746.7,205.8 C747.3,205.8 748.0,205.7 748.7,205.7 C749.3,205.7 750.0,205.6 750.7,205.6 C751.4,205.5 752.0,205.4 752.7,205.4 C753.4,205.3 754.0,205.3 754.7,205.2 C755.4,205.1 756.0,205.1 756.7,205.0 C757.4,204.9 758.0,204.8 758.7,204.7 C759.4,204.7 760.0,204.6 760.7,204.5 C761.4,204.4 762.0,204.3 762.7,204.1 C763.4,204.0 764.0,203.9 764.7,203.8 C765.4,203.7 766.0,203.5 766.7,203.4 C767.4,203.2 768.0,203.1 768.7,202.9 C769.4,202.8 770.0,202.6 770.7,202.4 C771.4,202.2 772.0,202.0 772.7,201.8 C773.4,201.6 774.0,201.4 774.7,201.1 C775.4,200.9 776.0,200.7 776.7,200.4 C777.4,200.1 778.0,199.8 778.7,199.5 C779.4,199.2 780.0,198.9 780.7,198.6 C781.4,198.2 782.1,197.8 782.7,197.5 C783.4,197.1 784.1,196.7 784.7,196.2 C785.4,195.8 786.1,195.3 786.7,194.8 C787.4,194.3 788.1,193.8 788.7,193.3 C789.4,192.7 790.1,192.1 790.7,191.5 C791.4,190.9 792.1,190.2 792.7,189.5 C793.4,188.8 794.1,188.1 794.7,187.3 C795.4,186.5 796.1,185.7 796.7,184.8 C797.4,184.0 798.1,183.1 798.7,182.1 C799.4,181.1 800.1,180.1 800.7,179.1 C801.4,178.0 802.1,176.9 802.7,175.7 C803.4,174.5 804.1,173.3 804.7,172.0 C805.4,170.7 806.1,169.4 806.7,167.9 C807.4,166.5 808.1,165.0 808.7,163.5 C809.4,162.0 810.1,160.3 810.8,158.7 C811.4,157.0 812.1,155.2 812.8,153.4 C813.4,151.6 814.1,149.7 814.8,147.8 C815.4,145.8 816.1,143.8 816.8,141.7 C817.4,139.6 818.1,137.5 818.8,135.3 C819.4,133.0 820.1,130.8 820.8,128.4 C821.4,126.0 822.1,123.6 822.8,121.1 C823.4,118.7 824.1,116.1 824.8,113.5 C825.4,110.9 826.1,108.2 826.8,105.4 C827.4,102.7 828.1,99.9 828.8,97.0 C829.4,94.2 830.1,91.2 830.8,88.2 C831.4,85.2 832.1,82.2 832.8,79.1 C833.4,76.0 834.1,72.8 834.8,69.6 C835.4,66.4 836.1,63.1 836.8,59.8 C837.4,56.5 838.1,53.2 838.8,49.8 C839.5,46.4 840.1,42.9 840.8,39.4 C841.5,36.0 842.1,32.4 842.8,28.9 C843.5,25.3 844.1,21.7 844.8,18.1 C845.5,14.5 846.1,10.9 846.8,7.2 C847.5,3.6 848.1,-0.1 848.8,-3.7 C849.5,-7.4 850.1,-11.0 850.8,-14.7 C851.5,-18.3 852.5,-23.7 852.8,-25.5" fill="none" stroke="#6a6a6a" stroke-width="1.3" stroke-dasharray="5 1.5 1.5 1.5" clip-path="url(#cpi)"/>
<path d="M757.0,205.8 C757.3,205.8 758.3,205.8 759.0,205.8 C759.7,205.7 760.4,205.7 761.1,205.6 C761.7,205.6 762.4,205.5 763.1,205.5 C763.8,205.4 764.5,205.4 765.1,205.3 C765.8,205.3 766.5,205.2 767.2,205.1 C767.9,205.1 768.5,205.0 769.2,204.9 C769.9,204.9 770.6,204.8 771.3,204.7 C771.9,204.6 772.6,204.6 773.3,204.5 C774.0,204.4 774.7,204.3 775.3,204.2 C776.0,204.1 776.7,204.0 777.4,203.9 C778.1,203.8 778.7,203.6 779.4,203.5 C780.1,203.4 780.8,203.3 781.5,203.1 C782.1,203.0 782.8,202.8 783.5,202.7 C784.2,202.5 784.8,202.4 785.5,202.2 C786.2,202.0 786.9,201.8 787.6,201.7 C788.2,201.5 788.9,201.3 789.6,201.1 C790.3,200.8 791.0,200.6 791.6,200.4 C792.3,200.1 793.0,199.9 793.7,199.6 C794.4,199.4 795.0,199.1 795.7,198.8 C796.4,198.5 797.1,198.2 797.8,197.9 C798.4,197.6 799.1,197.2 799.8,196.9 C800.5,196.5 801.2,196.1 801.8,195.7 C802.5,195.3 803.2,194.9 803.9,194.5 C804.6,194.0 805.2,193.6 805.9,193.1 C806.6,192.6 807.3,192.1 808.0,191.6 C808.6,191.1 809.3,190.5 810.0,189.9 C810.7,189.4 811.4,188.8 812.0,188.1 C812.7,187.5 813.4,186.8 814.1,186.1 C814.7,185.4 815.4,184.7 816.1,184.0 C816.8,183.2 817.5,182.4 818.1,181.6 C818.8,180.8 819.5,179.9 820.2,179.0 C820.9,178.1 821.5,177.2 822.2,176.2 C822.9,175.3 823.6,174.3 824.3,173.2 C824.9,172.2 825.6,171.1 826.3,170.0 C827.0,168.9 827.7,167.8 828.3,166.6 C829.0,165.4 829.7,164.2 830.4,162.9 C831.1,161.6 831.7,160.3 832.4,159.0 C833.1,157.6 833.8,156.3 834.5,154.8 C835.1,153.4 835.8,152.0 836.5,150.5 C837.2,149.0 837.9,147.5 838.5,145.9 C839.2,144.4 839.9,142.8 840.6,141.1 C841.2,139.5 841.9,137.9 842.6,136.2 C843.3,134.5 844.0,132.8 844.6,131.1 C845.3,129.4 846.0,127.7 846.7,125.9 C847.4,124.2 848.0,122.4 848.7,120.6 C849.4,118.9 850.1,117.1 850.8,115.3 C851.4,113.5 852.5,110.9 852.8,110.0" fill="none" stroke="#ee3434" stroke-width="1.8" clip-path="url(#cpi)"/>
<path d="M786.0,205.8 C786.4,205.8 787.4,205.8 788.0,205.8 C788.7,205.8 789.4,205.8 790.1,205.8 C790.7,205.8 791.4,205.8 792.1,205.7 C792.8,205.7 793.4,205.6 794.1,205.5 C794.8,205.5 795.5,205.4 796.1,205.3 C796.8,205.2 797.5,205.1 798.2,205.0 C798.8,204.9 799.5,204.8 800.2,204.7 C800.9,204.6 801.5,204.5 802.2,204.4 C802.9,204.3 803.6,204.2 804.2,204.0 C804.9,203.9 805.6,203.8 806.3,203.6 C806.9,203.5 807.6,203.3 808.3,203.1 C809.0,203.0 809.6,202.8 810.3,202.6 C811.0,202.4 811.7,202.3 812.3,202.1 C813.0,201.9 813.7,201.6 814.4,201.4 C815.0,201.2 815.7,201.0 816.4,200.7 C817.1,200.5 817.7,200.2 818.4,199.9 C819.1,199.7 819.7,199.4 820.4,199.1 C821.1,198.8 821.8,198.4 822.4,198.1 C823.1,197.8 823.8,197.4 824.5,197.0 C825.1,196.7 825.8,196.3 826.5,195.9 C827.2,195.5 827.8,195.0 828.5,194.6 C829.2,194.1 829.9,193.6 830.5,193.1 C831.2,192.6 831.9,192.1 832.6,191.6 C833.2,191.0 833.9,190.5 834.6,189.9 C835.3,189.2 835.9,188.6 836.6,188.0 C837.3,187.3 838.0,186.6 838.6,185.9 C839.3,185.1 840.0,184.4 840.7,183.6 C841.3,182.8 842.0,182.0 842.7,181.1 C843.4,180.2 844.0,179.3 844.7,178.3 C845.4,177.4 846.1,176.4 846.7,175.3 C847.4,174.3 848.1,173.2 848.8,172.0 C849.4,170.9 850.1,169.7 850.8,168.4 C851.5,167.2 852.5,165.2 852.8,164.5" fill="none" stroke="#3a3ae0" stroke-width="1.5" stroke-dasharray="4 2.5" clip-path="url(#cpi)"/>
<rect x="678.6" y="31.5" width="174.2" height="174.3" fill="none" stroke="#484848" stroke-width="2.3"/>
<path d="M707.6,32.7 L707.6,34.7 M707.6,204.6 L707.6,202.6 M736.7,32.7 L736.7,34.7 M736.7,204.6 L736.7,202.6 M765.7,32.7 L765.7,34.7 M765.7,204.6 L765.7,202.6 M794.7,32.7 L794.7,34.7 M794.7,204.6 L794.7,202.6 M823.8,32.7 L823.8,34.7 M823.8,204.6 L823.8,202.6 M679.8,162.2 L682.1,162.2 M851.6,162.2 L849.3,162.2 M679.8,118.7 L682.1,118.7 M851.6,118.7 L849.3,118.7 M679.8,75.1 L682.1,75.1 M851.6,75.1 L849.3,75.1" stroke="#4444cc" stroke-width="1.6" fill="none"/>
<text transform="translate(672.90,209.20)" font-size="13.60" fill="#4a4a4a" stroke="#4a4a4a" stroke-width="0.10" text-anchor="end">0.0</text>
<text transform="translate(672.90,165.63)" font-size="13.60" fill="#4a4a4a" stroke="#4a4a4a" stroke-width="0.10" text-anchor="end">2.0</text>
<text transform="translate(672.90,122.05)" font-size="13.60" fill="#4a4a4a" stroke="#4a4a4a" stroke-width="0.10" text-anchor="end">4.0</text>
<text transform="translate(672.90,78.47)" font-size="13.60" fill="#4a4a4a" stroke="#4a4a4a" stroke-width="0.10" text-anchor="end">6.0</text>
<text transform="translate(672.90,34.90)" font-size="13.60" fill="#4a4a4a" stroke="#4a4a4a" stroke-width="0.10" text-anchor="end">8.0</text>
<text transform="translate(678.60,222.80)" font-size="13.60" fill="#4a4a4a" stroke="#4a4a4a" stroke-width="0.10" text-anchor="middle">0</text>
<text transform="translate(736.67,222.80)" font-size="13.60" fill="#4a4a4a" stroke="#4a4a4a" stroke-width="0.10" text-anchor="middle">0.2</text>
<text transform="translate(794.73,222.80)" font-size="13.60" fill="#4a4a4a" stroke="#4a4a4a" stroke-width="0.10" text-anchor="middle">0.4</text>
<text transform="translate(852.80,222.80)" font-size="13.60" fill="#4a4a4a" stroke="#4a4a4a" stroke-width="0.10" text-anchor="middle">0.6</text>
<text transform="translate(768.30,237.60)" font-size="13.40" fill="#3a3a3a" stroke="#3a3a3a" stroke-width="0.10" text-anchor="middle">Potential vs. RHE / V</text>
<text transform="translate(644.80,114.00) rotate(-90)" font-size="13.50" fill="#505050" text-anchor="middle">Current density / mA cm<tspan font-size="8.5" dy="-6" dx="1">-2</tspan></text>
<text transform="translate(727.30,124.10)" font-size="13.30" fill="#3a3a3a">Pt<tspan font-size="8.50" dy="6.00">2</tspan><tspan dy="-6.00">Ru</tspan><tspan font-size="8.50" dy="6.00">3</tspan><tspan dy="-6.00">/CB</tspan></text>
<text transform="translate(711.90,152.70)" font-size="13.30" fill="#3a3a3a">PtRu/Ta-SnO<tspan font-size="8.50" dy="6.00">2</tspan></text>
<text transform="translate(718.60,182.30)" font-size="13.30" fill="#3a3a3a">Pt/Ta-SnO<tspan font-size="8.50" dy="6.00">2</tspan></text>
<line x1="791.8" y1="122.7" x2="812.7" y2="135.4" stroke="#333" stroke-width="1.2"/>
<path d="M816.1,137.5 L809.5,136.8 L812.4,132.0 Z" fill="#333"/>
<line x1="799.2" y1="152.4" x2="824.4" y2="168.3" stroke="#333" stroke-width="1.2"/>
<path d="M827.8,170.4 L821.2,169.6 L824.2,164.8 Z" fill="#333"/>
<line x1="789.7" y1="182.0" x2="812.7" y2="196.8" stroke="#333" stroke-width="1.2"/>
<path d="M816.1,199.0 L809.5,198.1 L812.6,193.4 Z" fill="#333"/>
</g></svg></div></body></html>
